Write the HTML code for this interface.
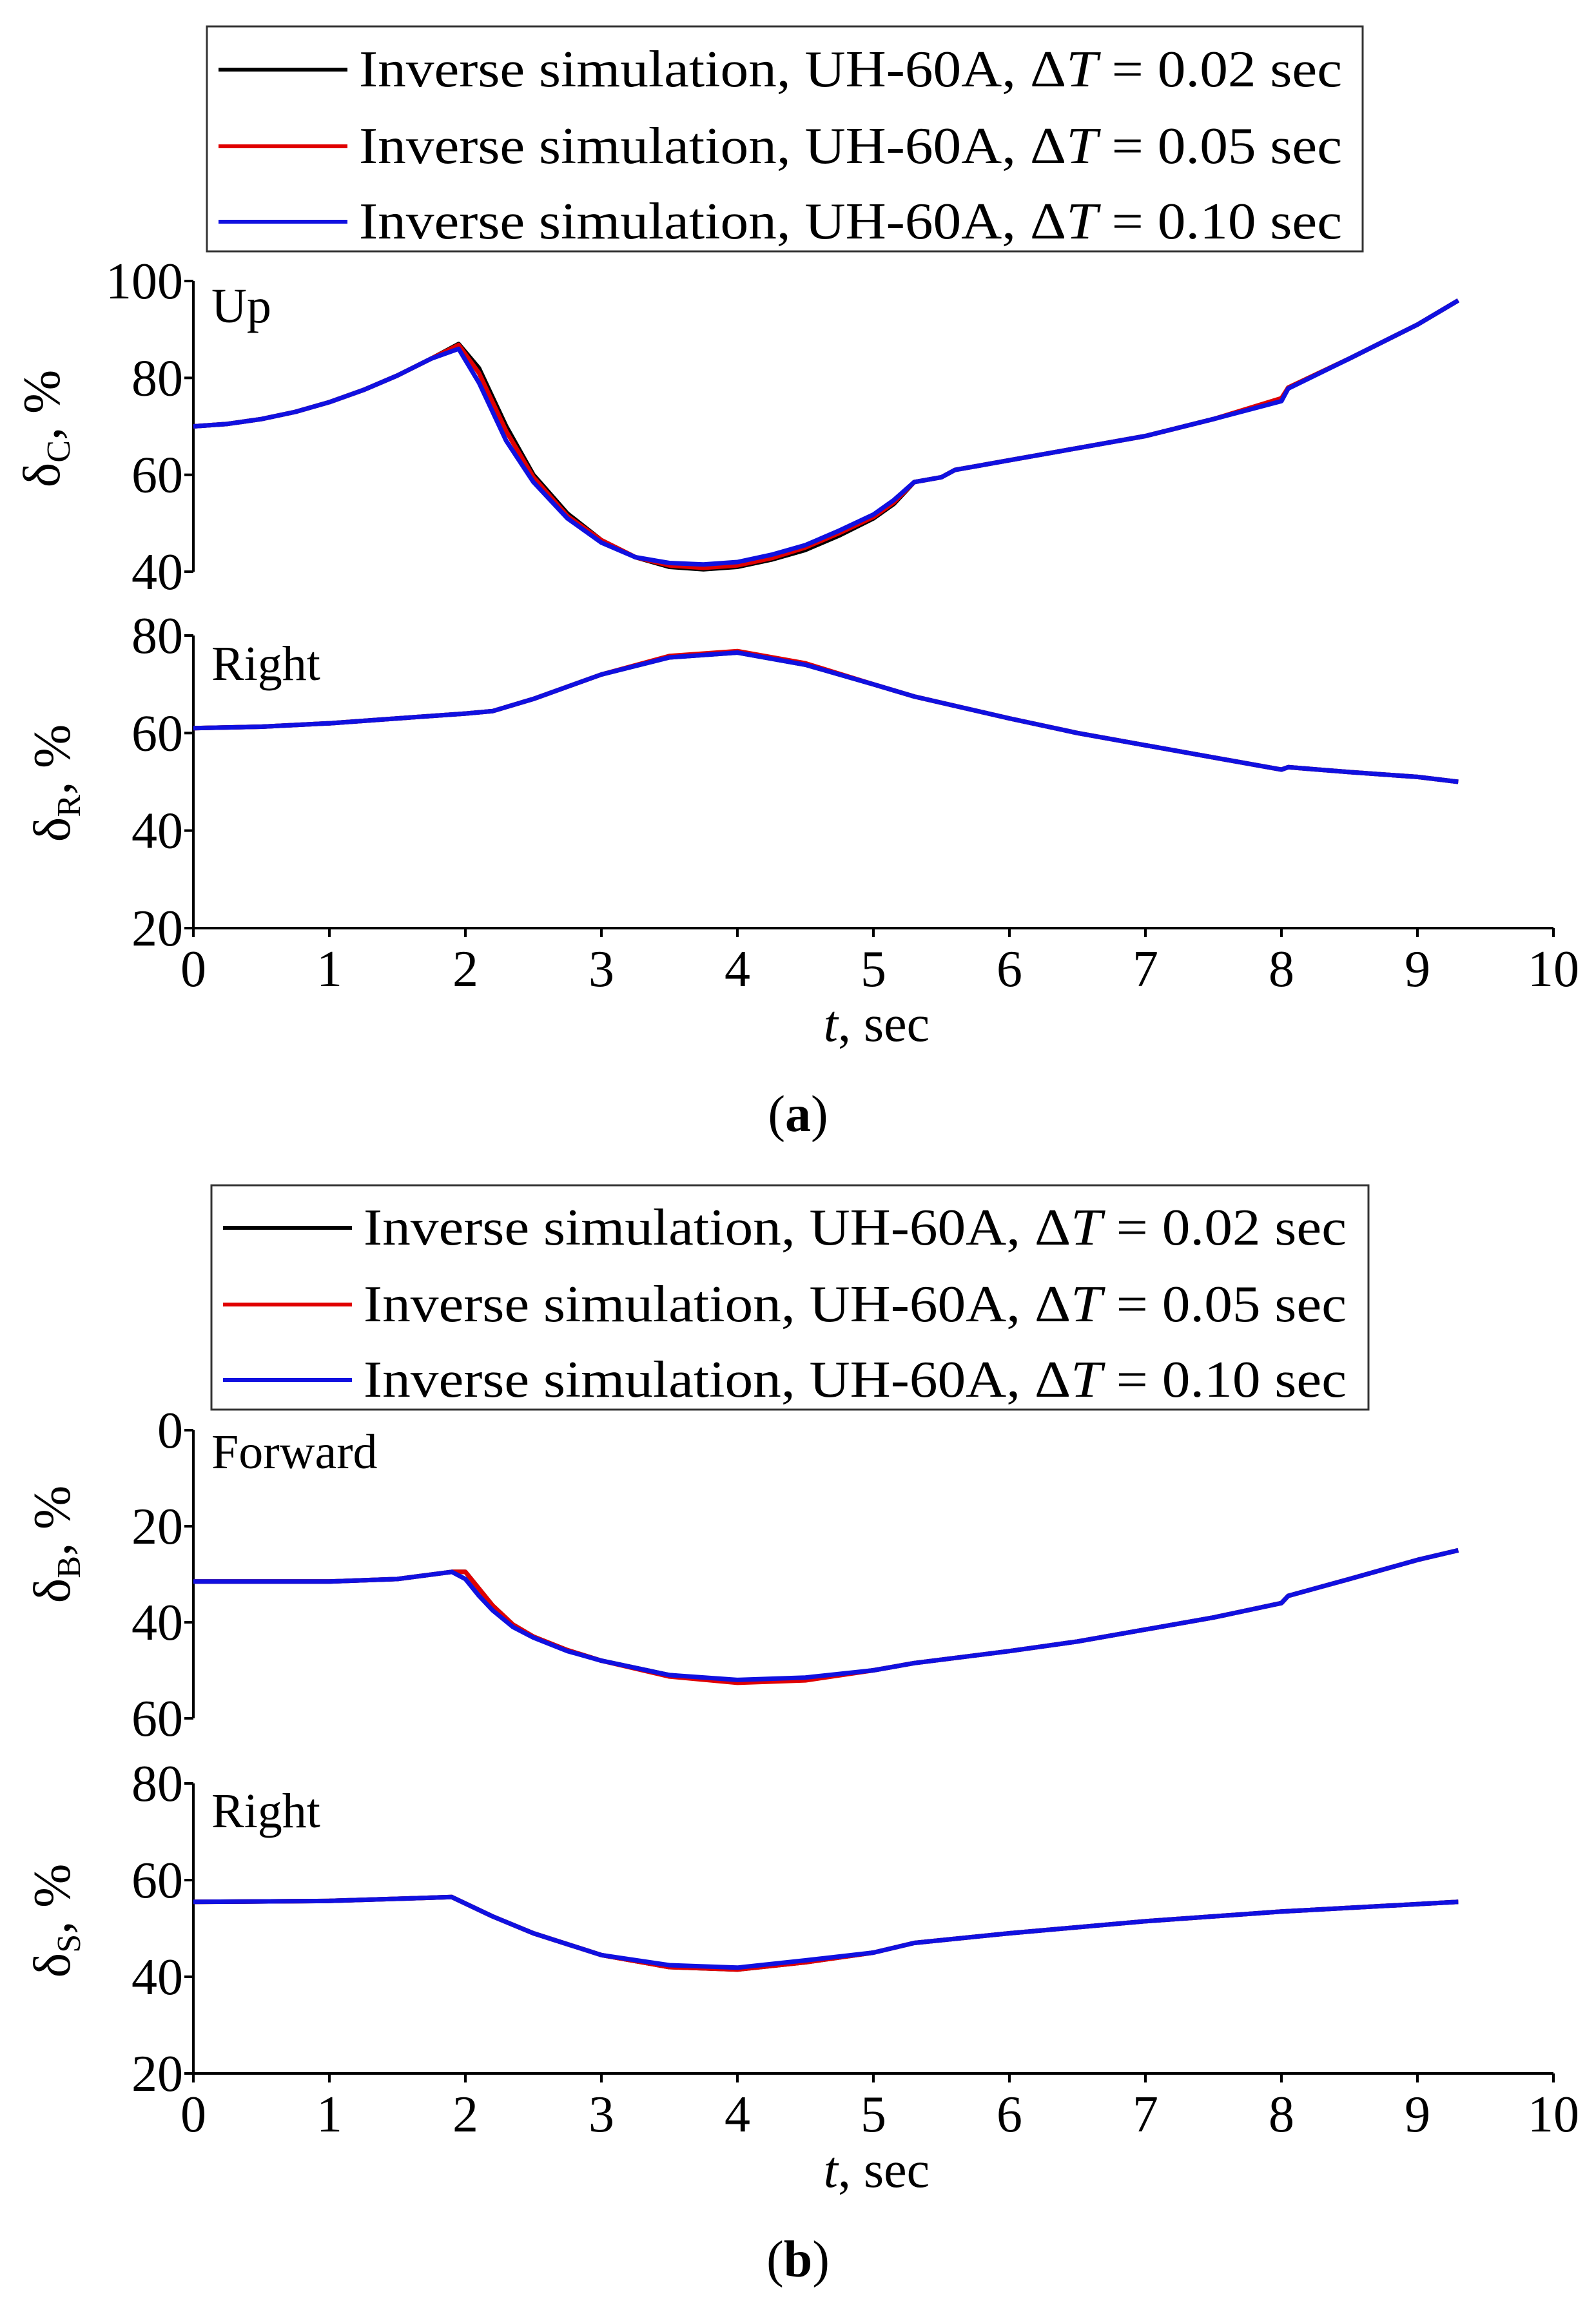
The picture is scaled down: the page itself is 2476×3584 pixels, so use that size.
<!DOCTYPE html>
<html><head><meta charset="utf-8"><style>
html,body{margin:0;padding:0;background:#fff}
svg{display:block}
text{font-family:"Liberation Serif",serif;fill:#000}
</style></head><body>
<svg id="fig" width="2476" height="3584" viewBox="0 0 2476 3584" xmlns="http://www.w3.org/2000/svg"></svg>
<script>
// ---- data ----
const seriesLabels = ["Inverse simulation, UH-60A, ΔT = 0.02 sec","Inverse simulation, UH-60A, ΔT = 0.05 sec","Inverse simulation, UH-60A, ΔT = 0.10 sec"];
const xTicks = [0,1,2,3,4,5,6,7,8,9,10];
const tC = [0,0.25,0.5,0.75,1,1.25,1.5,1.75,1.95,2.1,2.3,2.5,2.75,3,3.25,3.5,3.75,4,4.25,4.5,4.75,5,5.15,5.3,5.5,5.6,6,6.5,7,7.5,8,8.05,8.5,9,9.3];
const cBlack= [70,70.5,71.5,73,75,77.5,80.5,84,87,82,70,60,52,46.5,43,41,40.5,41,42.5,44.5,47.5,51,54,58.5,59.5,61,63,65.5,68,71.5,75.5,78,84,91,96];
const cRed  = [70,70.5,71.5,73,75,77.5,80.5,84,86.8,81,69,59.5,51.5,46.5,43,41.3,40.8,41.3,42.8,45,48,51.3,54.3,58.5,59.5,61,63,65.5,68,71.5,75.8,78,84,91,96];
const cBlue = [70,70.5,71.5,73,75,77.5,80.5,84,86,79,67,58.5,51,46,43,41.8,41.5,42,43.5,45.5,48.5,51.8,54.8,58.5,59.5,61,63,65.5,68,71.5,75.2,77.8,84,91,96];
const tR = [0,0.5,1,1.5,2,2.2,2.5,3,3.5,4,4.5,5,5.3,6,6.5,7,7.5,8,8.05,8.5,9,9.3];
const rVals = [61,61.3,62,63,64,64.5,67,72,75.5,76.5,74,70,67.5,63,60,57.5,55,52.5,53,52,51,50];
const tB = [0,0.5,1,1.5,1.9,2,2.1,2.2,2.35,2.5,2.75,3,3.5,4,4.5,5,5.3,6,6.5,7,7.5,8,8.05,8.5,9,9.3];
const bBlack = [31.5,31.5,31.5,31,29.5,29.5,33,36.5,40.5,43,45.8,48,51,52.3,51.8,50,48.5,46,44,41.5,39,36,34.5,31,27,25];
const bBlue  = [31.5,31.5,31.5,31,29.5,31,34.5,37.5,41,43.2,46,48,51,52,51.5,50,48.5,46,44,41.5,39,36,34.5,31,27,25];
const tS = [0,1,1.9,2.2,2.5,3,3.5,4,4.5,5,5.3,6,7,8,9.3];
const sVals = [55.5,55.7,56.5,52.5,49,44.5,42,41.5,43,45,47,49,51.5,53.5,55.5];

const svg=document.getElementById('fig');
const NS='http://www.w3.org/2000/svg';
function el(tag,attrs,parent){const e=document.createElementNS(NS,tag);for(const k in attrs)e.setAttribute(k,attrs[k]);(parent||svg).appendChild(e);return e;}
const X0=300,X1=2410;
const xs=t=>X0+(X1-X0)*t/10;
function lin(v0,p0,v1,p1){return v=>p0+(p1-p0)*(v-v0)/(v1-v0);}
const colors=["#000","#e00000","#1010e0"];

function legend(x,y,w,h,rows,name){
  const g=el('g',{});
  
  
  el('rect',{x:x,y:y,width:w,height:h,fill:'#fff',stroke:'#333','stroke-width':3},g);
  rows.forEach((ry,i)=>{
    const e=el('g',{},g);
    
    
    el('line',{x1:x+18,x2:x+218,y1:ry,y2:ry,stroke:colors[i],'stroke-width':6},e);
    const t=el('text',{x:x+236,y:ry+26,'font-size':80,textLength:1525,lengthAdjust:'spacingAndGlyphs'},e);
    const parts=seriesLabels[i].split('T');
    t.textContent=parts[0];
    const it=el('tspan',{'font-style':'italic'},t);it.textContent='T';
    const rest=el('tspan',{},t);rest.textContent=parts[1];
  });
}
function yaxis(ticks,ys,yTop,yBot,name){
  const g=el('g',{});
  
  
  el('line',{x1:X0,x2:X0,y1:yTop,y2:yBot,stroke:'#000','stroke-width':4},g);
  ticks.forEach(v=>{
    const y=ys(v);
    el('line',{x1:X0-14,x2:X0,y1:y,y2:y,stroke:'#000','stroke-width':4},g);
    const t=el('text',{x:X0-16,y:y+27,'font-size':80,'text-anchor':'end'},g);
    t.textContent=v;
  });
}
function xaxis(y,labY,titleY,name){
  const g=el('g',{});
  
  
  el('line',{x1:X0,x2:X1,y1:y,y2:y,stroke:'#000','stroke-width':4},g);
  xTicks.forEach(v=>{
    const x=xs(v);
    el('line',{x1:x,x2:x,y1:y,y2:y+14,stroke:'#000','stroke-width':4},g);
    const t=el('text',{x:x,y:labY,'font-size':80,'text-anchor':'middle'},g);
    t.textContent=v;
  });
  const tt=el('text',{x:(X0+X1)/2+5,y:titleY,'font-size':80,'text-anchor':'middle'},g);
  
  
  const i=el('tspan',{'font-style':'italic'},tt);i.textContent='t';
  const r=el('tspan',{},tt);r.textContent=', sec';
}
function ytitle(cx,cy,sub,name){
  const t=el('text',{transform:`translate(${cx},${cy}) rotate(-90)`,'font-size':82,'text-anchor':'middle'});
  
  
  const a=el('tspan',{},t);a.textContent='δ';
  const b=el('tspan',{'font-size':52,dy:16},t);b.textContent=sub;
  const c=el('tspan',{dy:-16},t);c.textContent=', %';
}
function label(x,y,s,name){
  const t=el('text',{x:x,y:y,'font-size':76});
  
  
  t.textContent=s;
}
function series(ts,vals,ys,color,name){
  const d=ts.map((t,i)=>(i?'L':'M')+xs(t).toFixed(1)+','+ys(vals[i]).toFixed(1)).join(' ');
  const p=el('path',{d:d,fill:'none',stroke:color,'stroke-width':7,'stroke-linejoin':'round'});
  
  
}

// ---- panel (a) ----
legend(321,41,1793,349,[108,227,344],'legend-a');
const yC=lin(100,436,40,887);
const yR=lin(80,986,20,1440);
yaxis([100,80,60,40],yC,436,887,'y-axis-collective');
yaxis([80,60,40,20],yR,986,1440,'y-axis-pedal');
xaxis(1440,1530,1615,'x-axis-a');
ytitle(92,665,'C','y-axis-title-collective');
ytitle(108,1215,'R','y-axis-title-pedal');
label(328,500,'Up','label-up');
label(328,1055,'Right','label-right-pedal');
series(tC,cBlack,yC,colors[0],'collective-dt002');
series(tC,cRed,yC,colors[1],'collective-dt005');
series(tC,cBlue,yC,colors[2],'collective-dt010');
series(tR,rVals,yR,colors[0],'pedal-dt002');
series(tR,rVals.map((v,i)=>v+(tR[i]>=3.5&&tR[i]<=4.5?0.3:0)),yR,colors[1],'pedal-dt005');
series(tR,rVals,yR,colors[2],'pedal-dt010');
const ca=el('text',{x:1238,y:1755,'font-size':80,'text-anchor':'middle'});


ca.innerHTML='(<tspan font-weight="bold">a</tspan>)';

// ---- panel (b) ----
legend(328,1839,1795,348,[1905,2024,2141],'legend-b');
const yB=lin(0,2219,60,2666);
const yS=lin(80,2767,20,3217);
yaxis([0,20,40,60],yB,2219,2666,'y-axis-longitudinal');
yaxis([80,60,40,20],yS,2767,3217,'y-axis-lateral');
xaxis(3217,3307,3393,'x-axis-b');
ytitle(108,2396,'B','y-axis-title-longitudinal');
ytitle(108,2980,'S','y-axis-title-lateral');
label(328,2278,'Forward','label-forward');
label(328,2835,'Right','label-right-lateral');
series(tB,bBlack,yB,colors[0],'longitudinal-dt002');
series(tB,bBlack.map((v,i)=>v+(tB[i]>=3.5&&tB[i]<=4.5?0.3:0)),yB,colors[1],'longitudinal-dt005');
series(tB,bBlue,yB,colors[2],'longitudinal-dt010');
series(tS,sVals,yS,colors[0],'lateral-dt002');
series(tS,sVals,yS,colors[1],'lateral-dt005');
series(tS,sVals.map((v,i)=>v+(tS[i]>=3.5&&tS[i]<=4.5?0.4:0)),yS,colors[2],'lateral-dt010');
const cb=el('text',{x:1238,y:3532,'font-size':80,'text-anchor':'middle'});


cb.innerHTML='(<tspan font-weight="bold">b</tspan>)';
</script>
</body></html>
